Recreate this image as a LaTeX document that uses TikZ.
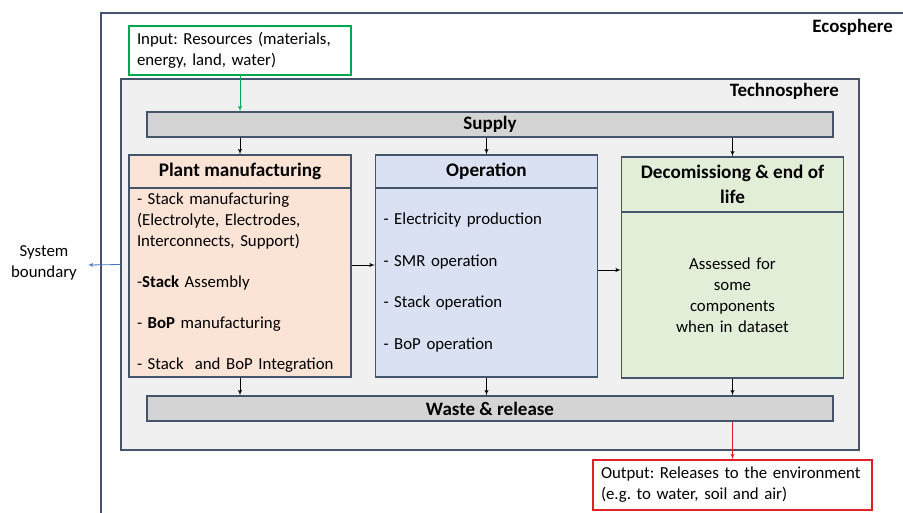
\documentclass[tikz,border=0pt]{standalone}
\usepackage{fontspec}
\setmainfont{Carlito}
\frenchspacing
\usetikzlibrary{arrows}
\definecolor{boxline}{HTML}{44546A}
\definecolor{technofill}{HTML}{F0F0F0}
\definecolor{barfill}{HTML}{D4D4D4}
\definecolor{plantfill}{HTML}{FBE3D5}
\definecolor{opfill}{HTML}{D9E1F2}
\definecolor{decomfill}{HTML}{E2EED8}
\definecolor{ingreen}{HTML}{00A84F}
\definecolor{outred}{HTML}{E02228}
\definecolor{sysblue}{HTML}{4472C4}
\tikzset{
    sphere/.style={rectangle,draw=boxline,line width=1.1pt},
    bar/.style={rectangle,draw=boxline,line width=1.1pt,fill=barfill,minimum width=686pt,minimum height=25pt,inner sep=0pt,font=\fontsize{19}{22}\selectfont\bfseries},
    head/.style={rectangle,draw=boxline,line width=1.1pt,minimum width=222pt,inner sep=0pt,align=center,font=\fontsize{19.2}{24.5}\selectfont\bfseries},
    body/.style={rectangle,draw=boxline,line width=1.1pt,text width=206pt,inner xsep=8pt,inner ysep=0pt,align=left,font=\fontsize{16.8}{21}\selectfont},
    label/.style={font=\fontsize{18.9}{22}\selectfont\bfseries,inner sep=0pt},
    io/.style={rectangle,line width=1.1pt,inner xsep=8pt,align=left,font=\fontsize{16.8}{21}\selectfont},
    dedge/.style={->,> = latex', draw=black, line width=0.9pt},
    inedge/.style={->,> = latex', draw=ingreen, line width=0.9pt},
    outedge/.style={->,> = latex', draw=outred, line width=0.9pt},
    sysedge/.style={->,> = latex', draw=sysblue, line width=0.8pt},
}
\begin{document}
\begin{tikzpicture}[x=1pt,y=-1pt]
\useasboundingbox (0,0) rectangle (903,513);
\node[sphere,minimum width=805pt,minimum height=503pt] (eco) at (503.5,264.5) {};
\node[label,anchor=east] (ecolabel) at (893,27) {Ecosphere};
\node[sphere,fill=technofill,minimum width=738pt,minimum height=371pt] (techno) at (490,264.5) {};
\node[label,anchor=east] (technolabel) at (839,91) {Technosphere};
\node[io,draw=ingreen,minimum width=222pt,minimum height=49pt,text width=206pt] (input) at (240,50.5) {Input: Resources (materials,\\energy, land, water)};
\node[io,draw=outred,minimum width=279pt,minimum height=50pt,text width=263pt] (output) at (732.5,485) {Output: Releases to the environment\\(e.g. to water, soil and air)};
\node[bar] (supply) at (490,124.5) {Supply};
\node[bar] (waste) at (490,408.5) {Waste \& release};
\node[head,fill=plantfill,minimum height=33pt] (planthead) at (240,171.5) {Plant manufacturing};
\node[body,fill=plantfill,minimum height=189pt] (plantbody) at (240,282.5) {- Stack manufacturing\\(Electrolyte, Electrodes,\\Interconnects, Support)\\[20pt]-\textbf{Stack} Assembly\\[20pt]- \textbf{BoP} manufacturing\\[20pt]- Stack\ \ and BoP Integration};
\node[head,fill=opfill,minimum height=33pt] (ophead) at (486.5,171.5) {Operation};
\node[body,fill=opfill,minimum height=189pt] (opbody) at (486.5,282.5) {- Electricity production\\[20.5pt]- SMR operation\\[20.5pt]- Stack operation\\[20.5pt]- BoP operation};
\node[head,fill=decomfill,minimum height=55pt] (decomhead) at (732.5,184.5) {Decomissiong \& end of\\life};
\node[body,fill=decomfill,minimum height=166pt,align=center] (decombody) at (732.5,295) {Assessed for\\some\\components\\when in dataset};
\node[align=center,font=\fontsize{16.8}{20.5}\selectfont,inner sep=0pt] (sysb) at (44,263) {System\\boundary};
\coordinate (systip) at (88,265);
\draw[inedge] (input.south) -- (input.south |- supply.north);
\draw[dedge] (supply.south -| planthead.north) -- (planthead.north);
\draw[dedge] (supply.south -| ophead.north) -- (ophead.north);
\draw[dedge] (supply.south -| decomhead.north) -- (decomhead.north);
\draw[dedge] ([yshift=17.5pt]plantbody.east) -- ([yshift=17.5pt]plantbody.east -| opbody.west);
\draw[dedge] ([yshift=12.5pt]opbody.east) -- ([yshift=12.5pt]opbody.east -| decombody.west);
\draw[dedge] (plantbody.south) -- (plantbody.south |- waste.north);
\draw[dedge] (opbody.south) -- (opbody.south |- waste.north);
\draw[dedge] (decombody.south) -- (decombody.south |- waste.north);
\draw[outedge] (waste.south -| output.north) -- (output.north);
\draw[sysedge] (techno.west) -- (systip);
\end{tikzpicture}
\end{document}
